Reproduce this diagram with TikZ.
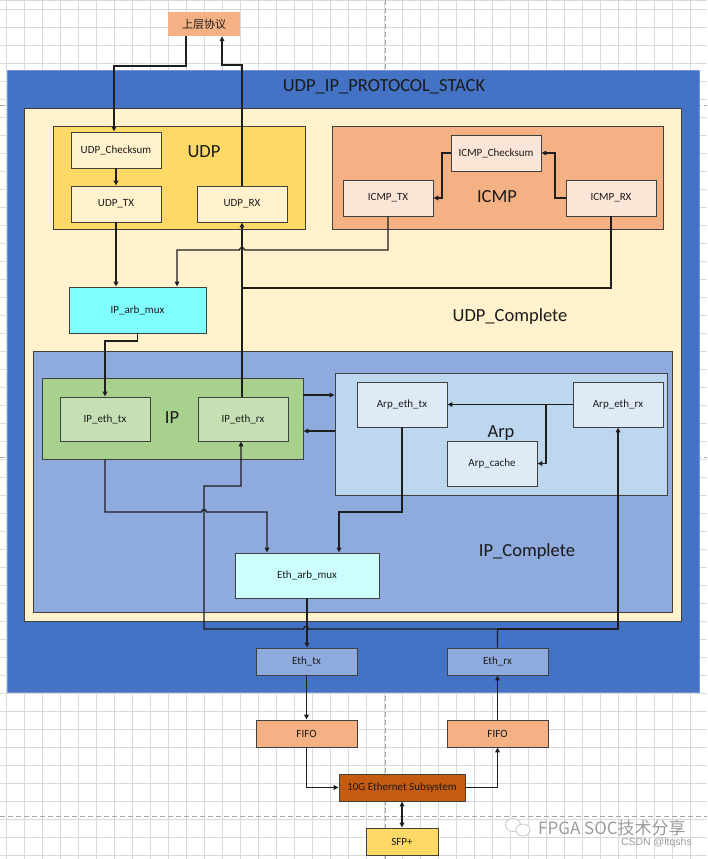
\documentclass[tikz,border=0pt]{standalone}
\usepackage{fontspec}
\setmainfont{Carlito}
\newfontfamily\cjk{Noto Sans CJK SC}
\newfontfamily\wmsans{Liberation Sans}
\usetikzlibrary{arrows.meta}
\definecolor{boxline}{HTML}{404040}
\definecolor{connline}{HTML}{1E1E1E}
\definecolor{labeltext}{HTML}{1A1A1A}
\definecolor{gridgray}{HTML}{D9D9D9}
\definecolor{breakgray}{HTML}{A6A6A6}
\definecolor{stackblue}{HTML}{4472C4}
\definecolor{cream}{HTML}{FFF2CC}
\definecolor{gold}{HTML}{FFD966}
\definecolor{peach}{HTML}{F4B183}
\definecolor{peachlight}{HTML}{FBE5D6}
\definecolor{ipblue}{HTML}{8FAADC}
\definecolor{ipgreen}{HTML}{A9D18E}
\definecolor{ipgreenlight}{HTML}{C5E0B4}
\definecolor{arpblue}{HTML}{BDD7EE}
\definecolor{arplight}{HTML}{DEEBF7}
\definecolor{cyanmux}{HTML}{7FFFFF}
\definecolor{cyanlight}{HTML}{CCFFFF}
\definecolor{rust}{HTML}{C55A11}
\definecolor{wmgray}{HTML}{9C9C9C}
\begin{document}
\begin{tikzpicture}[x=1pt,y=-1pt,
  box/.style={draw=boxline,line width=0.9pt,inner sep=0pt,font=\fontsize{11}{12}\selectfont,text=labeltext},
  container/.style={draw=boxline,line width=0.9pt,inner sep=0pt},
  conn/.style={draw=connline,line width=1.3pt,-{Triangle[length=5pt,width=4.6pt]}},
  wire/.style={draw=connline,line width=1.3pt},
  biglabel/.style={font=\fontsize{18.5}{20}\selectfont,text=labeltext,inner sep=0pt},
  gridline/.style={draw=gridgray,line width=0.8pt},
  pagebreak/.style={draw=breakgray,line width=0.9pt,dash pattern=on 5pt off 3pt}]
\useasboundingbox (0,0) rectangle (707,859);
\fill[white] (0,0) rectangle (707,859);
% background grid
\foreach \k in {0,...,38} \draw[gridline] ({6.7+18*\k},0) -- ({6.7+18*\k},859);
\foreach \k in {0,...,47} \draw[gridline] (0,{9+18*\k}) -- (707,{9+18*\k});
\draw[gridline] (0,0.5) -- (707,0.5);
\draw[pagebreak] (0,105) -- (707,105);
\draw[pagebreak] (0,457) -- (707,457);
\draw[pagebreak] (0,816) -- (707,816);
\draw[pagebreak] (385,0) -- (385,859);

% containers
\node[draw=stackblue!75!white,line width=0.8pt,fill=stackblue,inner sep=0pt,minimum width=692,minimum height=622] (stack) at (353,381) {};
\node[biglabel] (stacktitle) at (384,87) {UDP\_IP\_PROTOCOL\_STACK};
\node[container,fill=cream,minimum width=657,minimum height=513] (udpc) at (352.5,364.5) {};
\node[container,fill=gold,minimum width=252,minimum height=103] (udpbox) at (179,177.5) {};
\node[container,fill=peach,minimum width=331,minimum height=103] (icmpbox) at (497.5,177.5) {};
\node[container,fill=ipblue,minimum width=639,minimum height=261] (ipc) at (352.5,481.5) {};
\node[container,fill=ipgreen,minimum width=261,minimum height=81] (ipbox) at (172.5,418.5) {};
\node[container,fill=arpblue,minimum width=332,minimum height=122] (arpbox) at (501,434) {};

% upper protocol
\node[inner sep=0pt,fill=peach,minimum width=72,minimum height=24,font=\cjk\fontsize{11}{12}\selectfont,text=labeltext] (upper) at (204,24) {上层协议};

% inner blocks
\node[box,fill=cream,minimum width=90,minimum height=36] (udpchk) at (116,150) {UDP\_Checksum};
\node[box,fill=cream,minimum width=90,minimum height=36] (udptx) at (116,204) {UDP\_TX};
\node[box,fill=cream,minimum width=90,minimum height=36] (udprx) at (242,204) {UDP\_RX};
\node[box,fill=peachlight,minimum width=90,minimum height=36] (icmpchk) at (496,153) {ICMP\_Checksum};
\node[box,fill=peachlight,minimum width=90,minimum height=36] (icmptx) at (388,198) {ICMP\_TX};
\node[box,fill=peachlight,minimum width=90,minimum height=36] (icmprx) at (611,198) {ICMP\_RX};
\node[box,fill=cyanmux,minimum width=137,minimum height=46] (iparb) at (137.5,310) {IP\_arb\_mux};
\node[box,fill=ipgreenlight,minimum width=90,minimum height=44] (ipethtx) at (105,419) {IP\_eth\_tx};
\node[box,fill=ipgreenlight,minimum width=90,minimum height=44] (ipethrx) at (243,419) {IP\_eth\_rx};
\node[box,fill=arplight,minimum width=90,minimum height=45] (arptx) at (402,404.5) {Arp\_eth\_tx};
\node[box,fill=arplight,minimum width=90,minimum height=45] (arprx) at (618,404.5) {Arp\_eth\_rx};
\node[box,fill=arplight,minimum width=90,minimum height=45] (arpcache) at (492,463.5) {Arp\_cache};
\node[box,fill=cyanlight,minimum width=144,minimum height=45] (etharb) at (307,575.5) {Eth\_arb\_mux};
\node[box,fill=ipblue,minimum width=101,minimum height=27] (ethtx) at (306.5,661.5) {Eth\_tx};
\node[box,fill=ipblue,minimum width=101,minimum height=27] (ethrx) at (497.5,661.5) {Eth\_rx};
\node[box,fill=peach,minimum width=101,minimum height=27] (fifo1) at (306.5,733.5) {FIFO};
\node[box,fill=peach,minimum width=101,minimum height=27] (fifo2) at (497.5,733.5) {FIFO};
\node[box,fill=rust,minimum width=126,minimum height=27] (gsub) at (402,787.5) {10G Ethernet Subsystem};
\node[box,fill=gold,minimum width=72,minimum height=27] (sfp) at (402,841.5) {SFP+};

% big labels
\node[biglabel] (udplbl) at (204,152) {UDP};
\node[biglabel] (icmplbl) at (497,197) {ICMP};
\node[biglabel] (iplbl) at (172,418) {IP};
\node[biglabel] (arplbl) at (501,433) {Arp};
\node[biglabel] (udpclbl) at (510,317) {UDP\_Complete};
\node[biglabel] (ipclbl) at (527,552) {IP\_Complete};

% connectors
\draw[conn] ([xshift=-18pt]upper.south) -- (186,66) -- (114,66) -- ([xshift=-2pt]udpchk.north);
\draw[conn] (udprx.north) -- (242,65) -- (222,65) -- ([xshift=18pt]upper.south);
\draw[conn] (udpchk.south) -- (udptx.north);
\draw[conn] (udptx.south) -- (udptx.south |- iparb.north);
\draw[conn] (icmptx.south) -- (388,250) -- (244.5,250) arc[start angle=0,end angle=180,radius=2.5pt] -- (177,250) -- ([xshift=39.5pt]iparb.north);
\draw[wire] (icmprx.south) |- (242,288);
\draw[conn] (ipethrx.north -| udprx.south) -- (udprx.south);
\draw[conn] (icmpchk.west) -- (442,153) -- (442,198) -- (icmptx.east);
\draw[conn] (icmprx.west) -- (555,198) -- (555,153) -- (icmpchk.east);
\draw[conn] (iparb.south) -- (137.5,341) -- (105,341) -- (ipethtx.north);
\coordinate (ipA) at ([yshift=23.5pt]ipbox.east);
\draw[conn] (ipA) -- (ipA -| arpbox.west);
\coordinate (arpA) at ([yshift=3pt]arpbox.west);
\draw[conn] (arpA) -- (arpA -| ipbox.east);
\draw[conn] (arprx.west) -- (arptx.east);
\coordinate (arpsplit) at (546,404.5);
\draw[conn] (arpsplit) |- (arpcache.east);
\draw[conn] ([xshift=-67.5pt]ipbox.south) -- (105,512) -- (201.5,512) arc[start angle=180,end angle=0,radius=2.5pt] -- (267,512) -- ([xshift=-40pt]etharb.north);
\draw[conn] (arptx.south) -- (402,512) -- (339,512) -- ([xshift=32pt]etharb.north);
\draw[conn] (etharb.south) -- (etharb.south |- ethtx.north);
\draw[conn] (ethrx.north) -- (497.5,629) -- (308.5,629) arc[start angle=0,end angle=180,radius=2.5pt] -- (204,629) -- (204,486) -- (241,486) -- ([xshift=-2pt]ipethrx.south);
\coordinate (rxsplit) at (497.5,629);
\draw[conn] (rxsplit) -| (arprx.south);
\draw[conn] (ethtx.south) -- (fifo1.north);
\draw[conn] (fifo2.north) -- (ethrx.south);
\draw[conn] (fifo1.south) |- (gsub.west);
\draw[conn] (gsub.east) -| (fifo2.south);
\draw[conn,{Triangle[length=5pt,width=4.6pt]}-{Triangle[length=5pt,width=4.6pt]}] (gsub.south) -- (sfp.north);

% watermark
\draw[draw=gray!45,fill=white,line width=0.8pt] (513,825) ellipse[x radius=7.5pt,y radius=6.5pt];
\draw[draw=gray!45,fill=white,line width=0.8pt] (523,830) ellipse[x radius=7pt,y radius=6pt];
\node[anchor=west,inner sep=0pt,text=wmgray,font=\cjk\fontsize{17}{18}\selectfont] (wm) at (538,828) {FPGA SOC技术分享};
\node[anchor=east,inner sep=0pt,text=wmgray,font=\wmsans\fontsize{10.5}{11}\selectfont] (wm2) at (692,843) {CSDN @ltqshs};
\end{tikzpicture}
\end{document}
